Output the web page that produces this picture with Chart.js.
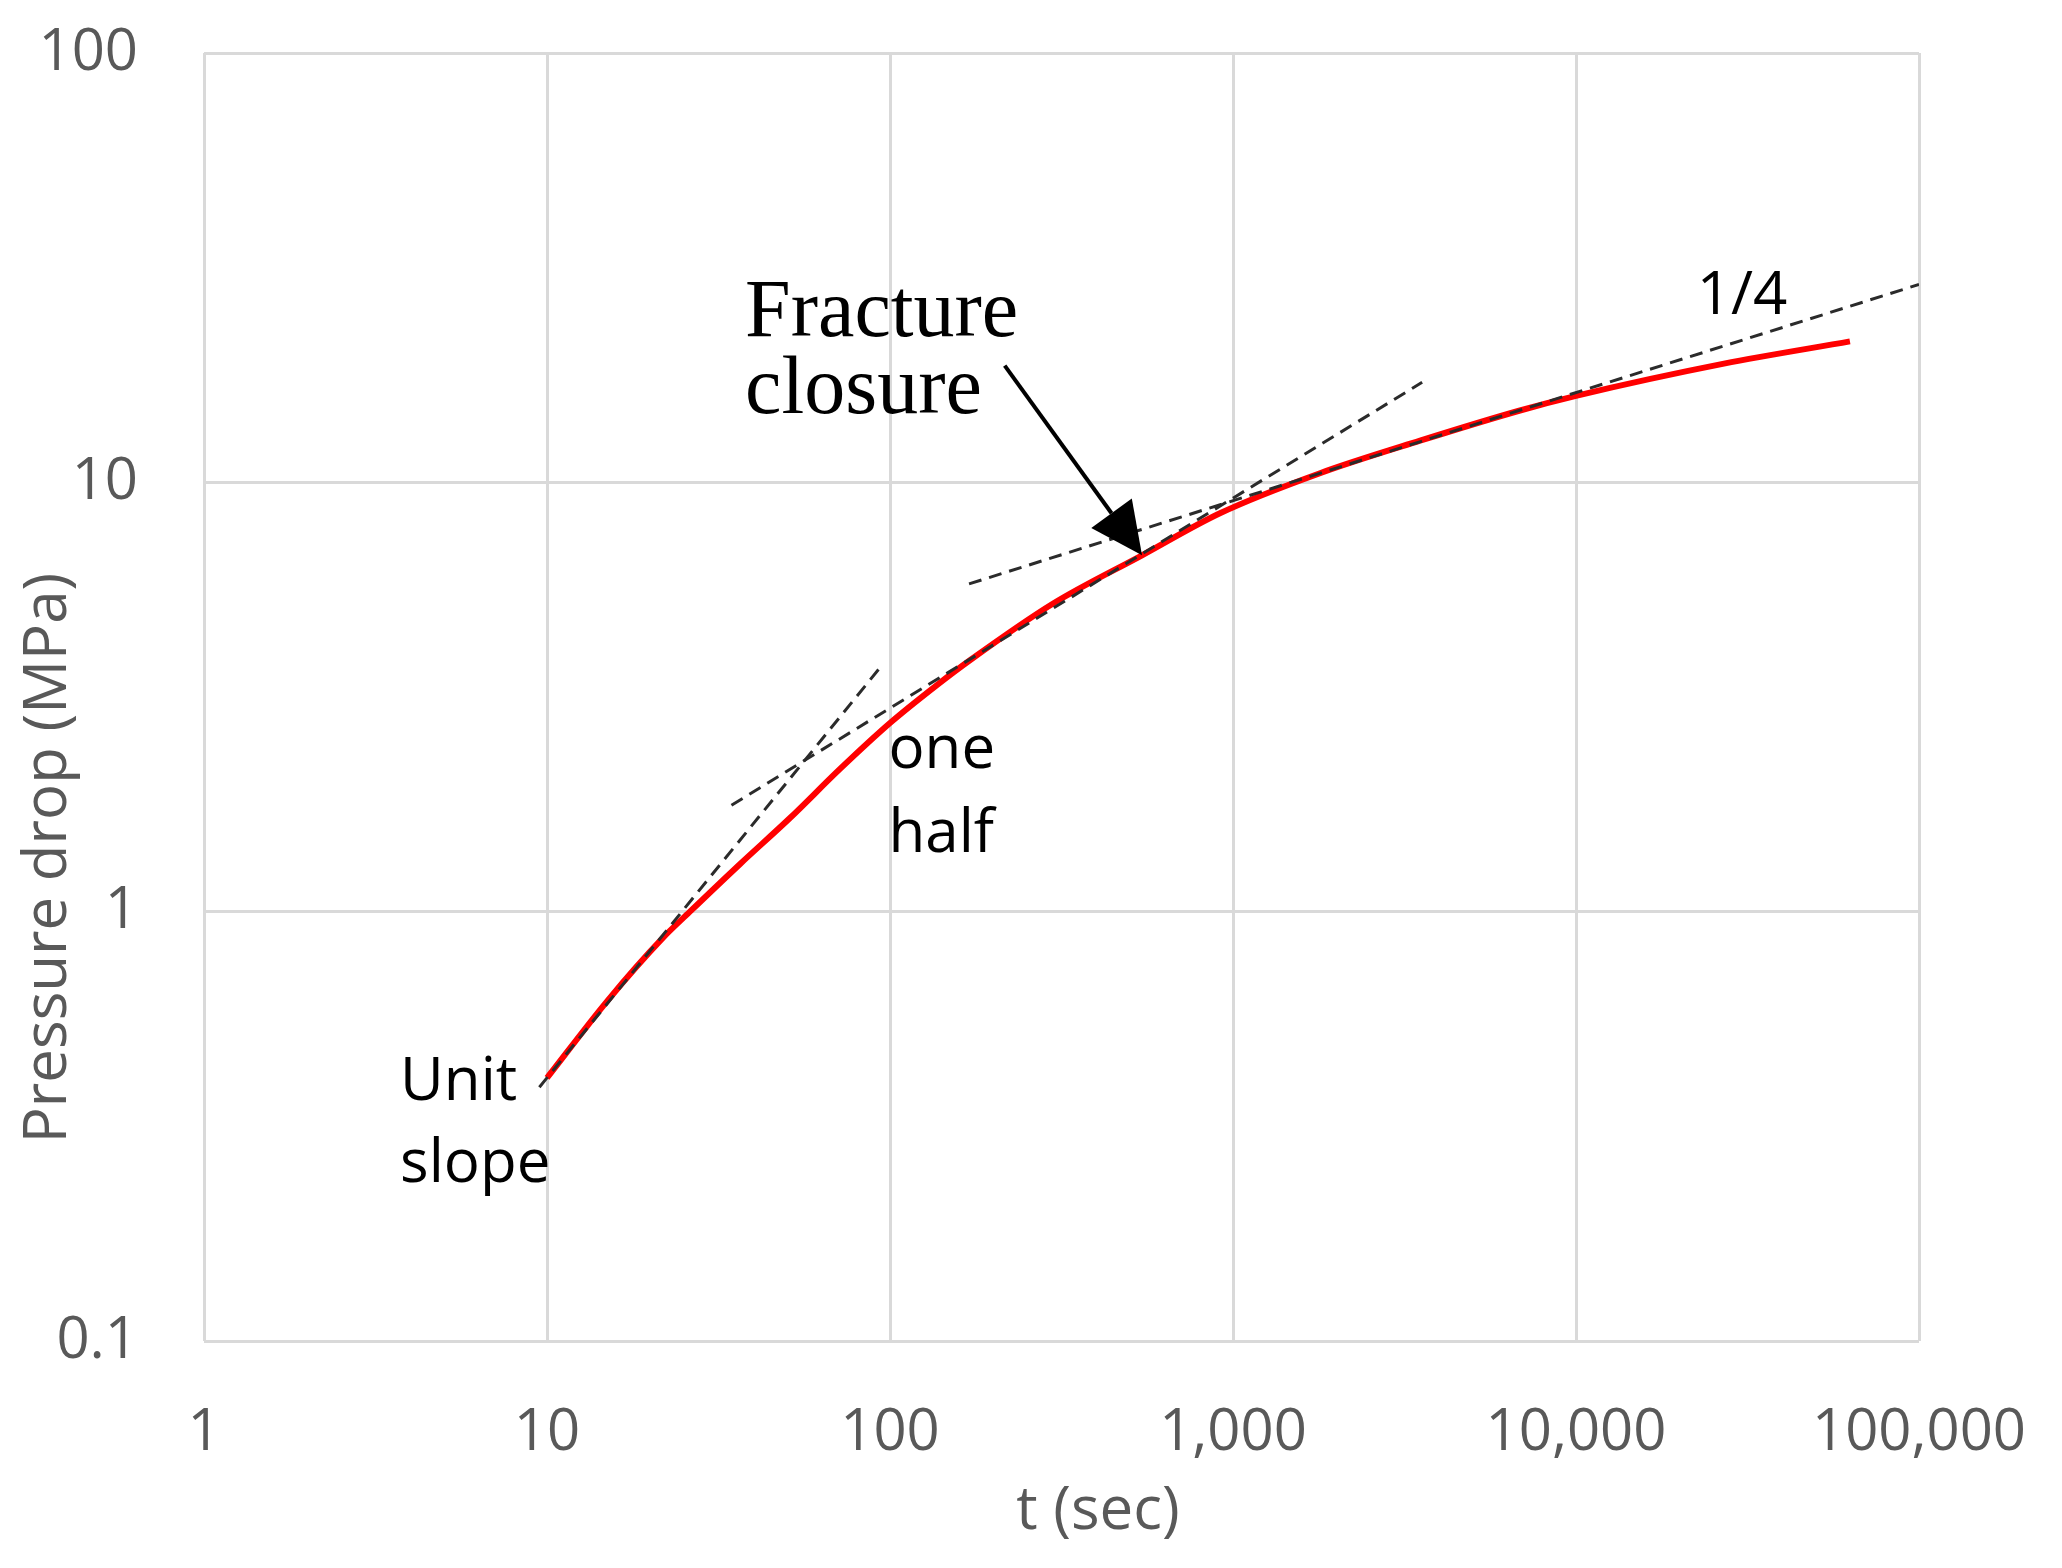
<!DOCTYPE html>
<html>
<head>
<meta charset="utf-8">
<title>Pressure drop vs time</title>
<script src="https://cdn.jsdelivr.net/npm/chart.js@4.4.1/dist/chart.umd.min.js"></script>
<style>
    html, body { margin: 0; padding: 0; background: #fff; }
    #wrap { width: 2062px; height: 1568px; }
</style>
</head>
<body>
<div id="wrap"><canvas id="pressureChart" width="2062" height="1568"></canvas></div>
<script>
var timeSec = [10, 15, 21.8, 26.1, 36.5, 51, 71.5, 100, 137, 171, 299, 543, 916, 1793, 3510, 6866, 10000, 27000, 62900];
var pressureDrop = [0.41, 0.62, 0.87, 1.0, 1.29, 1.65, 2.15, 2.75, 3.37, 3.85, 5.22, 6.76, 8.47, 10.5, 12.5, 14.7, 15.9, 18.9, 21.3];

// dashed slope guides, two end points each
var unitSlopeT = [9.5, 94];
var unitSlopeP = [0.39, 3.72];
var halfSlopeT = [34.5, 3560];
var halfSlopeP = [1.77, 17.1];
var quarterSlopeT = [170, 100000];
var quarterSlopeP = [5.8, 28.9];

// axis ticks
var xTickValues = [1, 10, 100, 1000, 10000, 100000];
var yTickValues = [0.1, 1, 10, 100];

var xTitle = 't (sec)';
var yTitle = 'Pressure drop (MPa)';

// text notes anchored in data units (t of left edge, p of each baseline)
var notes = [
    { lines: ['Fracture', 'closure'], t: 37.8, p: [21.9, 14.5], font: '82px "Liberation Serif", "Times New Roman", serif' },
    { lines: ['one', 'half'], t: 99, p: [2.16, 1.38], font: '60px "Open Sans", sans-serif' },
    { lines: ['Unit', 'slope'], t: 3.73, p: [0.364, 0.234], font: '60px "Open Sans", sans-serif' },
    { lines: ['1/4'], t: 22500, p: [24.7], font: '60px "Open Sans", sans-serif' }
];

// arrow pointing at closure on the curve
var arrowFrom = [216, 18.7];
var arrowTo = [543, 6.76];

const toPoints = (ts, ps) => ts.map((t, i) => ({ x: t, y: ps[i] }));

function dashedGuide(ts, ps) {
    return {
        data: toPoints(ts, ps),
        borderColor: '#2b2b2b',
        borderWidth: 3,
        borderDash: [13, 8],
        pointRadius: 0,
        fill: false,
        order: 0
    };
}

var notesPlugin = {
    id: 'notes',
    afterDatasetsDraw: function (chart) {
        var ctx = chart.ctx;
        var xs = chart.scales.x;
        var ys = chart.scales.y;
        ctx.save();
        ctx.fillStyle = '#000';
        ctx.textAlign = 'left';
        ctx.textBaseline = 'alphabetic';
        notes.forEach(function (n) {
            ctx.font = n.font;
            n.lines.forEach(function (txt, i) {
                ctx.fillText(txt, xs.getPixelForValue(n.t), ys.getPixelForValue(n.p[i]));
            });
        });

        // arrow
        var x0 = xs.getPixelForValue(arrowFrom[0]), y0 = ys.getPixelForValue(arrowFrom[1]);
        var x1 = xs.getPixelForValue(arrowTo[0]), y1 = ys.getPixelForValue(arrowTo[1]);
        var ang = Math.atan2(y1 - y0, x1 - x0);
        var headLen = 52, headHalf = 25;
        var bx = x1 - headLen * Math.cos(ang), by = y1 - headLen * Math.sin(ang);
        ctx.strokeStyle = '#000';
        ctx.lineWidth = 4;
        ctx.beginPath();
        ctx.moveTo(x0, y0);
        ctx.lineTo(bx, by);
        ctx.stroke();
        ctx.beginPath();
        ctx.moveTo(x1, y1);
        ctx.lineTo(bx + headHalf * Math.sin(ang), by - headHalf * Math.cos(ang));
        ctx.lineTo(bx - headHalf * Math.sin(ang), by + headHalf * Math.cos(ang));
        ctx.closePath();
        ctx.fill();

        // axis titles (sit off-centre in the original)
        ctx.font = '60px "Open Sans", sans-serif';
        ctx.fillStyle = '#595959';
        ctx.textAlign = 'center';
        ctx.textBaseline = 'middle';
        ctx.fillText(xTitle, 1098, 1512);
        ctx.translate(49, 858);
        ctx.rotate(-Math.PI / 2);
        ctx.fillText(yTitle, 0, 0);
        ctx.restore();
    }
};

var tickFont = { family: 'Open Sans', size: 58 };
var gridStyle = { color: '#d9d9d9', lineWidth: 3, drawTicks: false };

var ctx = document.getElementById('pressureChart').getContext('2d');
var chart = new Chart(ctx, {
    type: 'line',
    data: {
        datasets: [
            dashedGuide(unitSlopeT, unitSlopeP),
            dashedGuide(halfSlopeT, halfSlopeP),
            dashedGuide(quarterSlopeT, quarterSlopeP),
            {
                data: toPoints(timeSec, pressureDrop),
                borderColor: '#ff0000',
                borderWidth: 6,
                pointRadius: 0,
                cubicInterpolationMode: 'monotone',
                fill: false,
                order: 1
            }
        ]
    },
    options: {
        responsive: false,
        animation: false,
        devicePixelRatio: 1,
        layout: { padding: { top: 53, right: 143, left: 0, bottom: 0 } },
        plugins: {
            legend: { display: false },
            tooltip: { enabled: false }
        },
        scales: {
            x: {
                type: 'logarithmic',
                min: 1,
                max: 100000,
                grid: gridStyle,
                border: { display: false },
                ticks: {
                    font: tickFont,
                    color: '#595959',
                    padding: 58,
                    maxRotation: 0,
                    autoSkip: false,
                    callback: (v) => Number(v).toLocaleString('en-US')
                },
                afterBuildTicks: (scale) => { scale.ticks = xTickValues.map(v => ({ value: v })); },
                afterFit: (scale) => {
                    scale.height = 227;
                    // the layout padding already leaves room for the end labels
                    scale.paddingLeft = 0;
                    scale.paddingRight = 0;
                }
            },
            y: {
                type: 'logarithmic',
                min: 0.1,
                max: 100,
                grid: gridStyle,
                border: { display: false },
                ticks: {
                    font: tickFont,
                    color: '#595959',
                    padding: 66,
                    autoSkip: false,
                    callback: (v) => String(v)
                },
                afterBuildTicks: (scale) => { scale.ticks = yTickValues.map(v => ({ value: v })); },
                afterFit: (scale) => {
                    scale.width = 204;
                    scale.paddingTop = 0;
                    scale.paddingBottom = 0;
                }
            }
        }
    },
    plugins: [notesPlugin]
});
</script>
</body>
</html>
